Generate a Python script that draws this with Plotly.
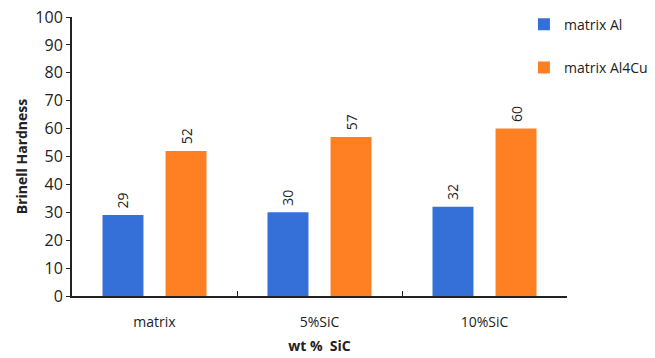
import plotly.graph_objects as go

categories = ["matrix", "5%SiC", "10%SiC"]
al_values = [29, 30, 32]
al4cu_values = [52, 57, 60]
y_ticks = [0, 10, 20, 30, 40, 50, 60, 70, 80, 90, 100]

FONT = "Open Sans"
blue = "#3570D8"
orange = "#FF8022"
PAD = "\u00a0"  # small gap between the bar top and its rotated value label

fig = go.Figure()
fig.add_trace(go.Bar(
    x=categories, y=al_values, name="matrix Al", legendgroup="a",
    marker=dict(color=blue, line=dict(width=0)),
    text=[PAD + str(v) for v in al_values], textposition="outside", textangle=-90,
    textfont=dict(family=FONT, size=14, color="#222"), cliponaxis=False,
))
fig.add_trace(go.Bar(
    x=categories, y=al4cu_values, name="matrix Al4Cu", legendgroup="b",
    marker=dict(color=orange, line=dict(width=0)),
    text=[PAD + str(v) for v in al4cu_values], textposition="outside", textangle=-90,
    textfont=dict(family=FONT, size=14, color="#222"), cliponaxis=False,
))

fig.update_layout(
    width=655, height=358,
    margin=dict(l=72, r=88, t=17, b=62, autoexpand=False),
    paper_bgcolor="white", plot_bgcolor="white",
    font=dict(family=FONT, color="#222"),
    barmode="group", bargap=0.236, bargroupgap=0.35,
    showlegend=True,
    legend=dict(x=0.913, y=1.03, xanchor="left", yanchor="top",
                font=dict(family=FONT, size=14, color="#222"),
                tracegroupgap=22, itemwidth=30, bgcolor="rgba(0,0,0,0)"),
    xaxis=dict(
        showline=True, linecolor="#222", linewidth=2,
        ticks="inside", ticklen=5, tickcolor="#222", tickson="boundaries",
        tickfont=dict(family=FONT, size=14, color="#222"),
        ticklabelstandoff=12,
        title=dict(text="<b>wt %  SiC</b>", font=dict(family=FONT, size=14, color="#222"), standoff=11),
        showgrid=False,
    ),
    yaxis=dict(
        range=[0, 100], tickvals=y_ticks,
        showline=True, linecolor="#222", linewidth=2,
        ticks="outside", ticklen=4, tickcolor="#222",
        tickfont=dict(family=FONT, size=16, color="#222"),
        title=dict(text="<b>Brinell Hardness</b>", font=dict(family=FONT, size=14, color="#222"), standoff=4),
        showgrid=False, zeroline=False,
    ),
)

fig.write_html("out.html")
